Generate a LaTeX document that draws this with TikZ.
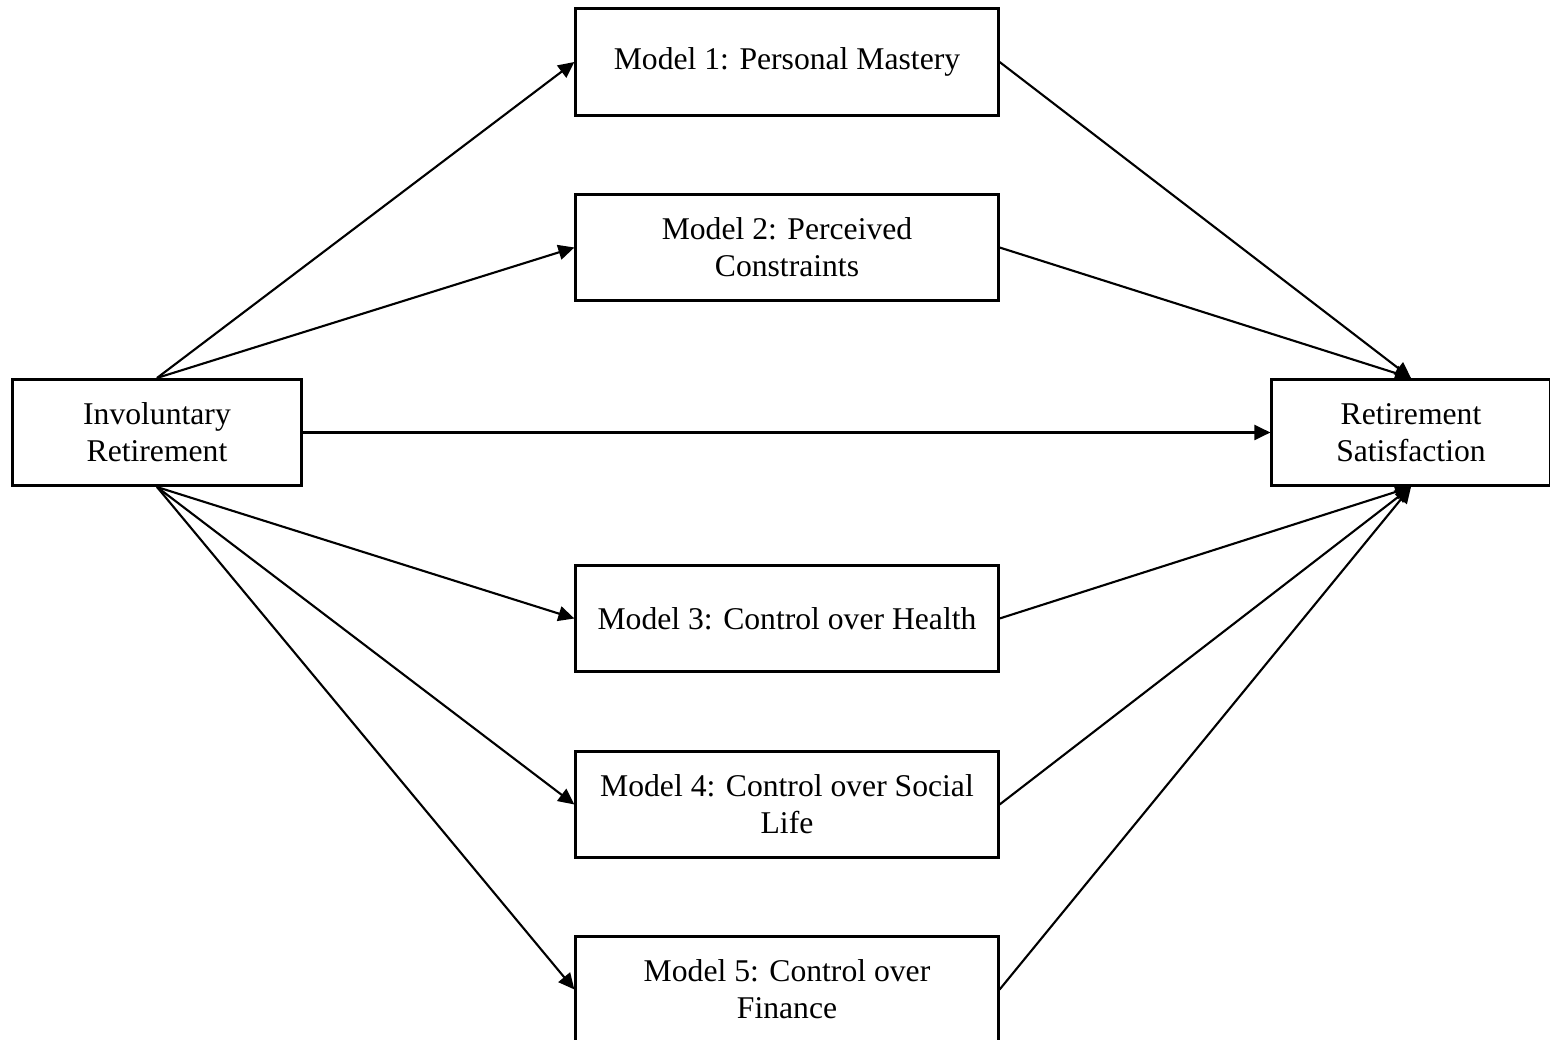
\documentclass[tikz,border=0pt]{standalone}
\usepackage{fontspec}
\setmainfont{Liberation Serif}
\usetikzlibrary{arrows.meta, positioning}

\begin{document}
\begin{tikzpicture}[
    x=0.01cm, y=-0.01cm,
    box/.style={draw=black, line width=0.85pt, fill=white, rectangle, minimum width=4.22cm, minimum height=1.06cm, align=center, font=\fontsize{9}{10.5}\selectfont},
    end_box/.style={box, minimum width=2.86cm},
    path_line/.style={line width=0.6pt, draw=black, -{Triangle[length=0.16cm, width=0.15cm]}}
]
    \useasboundingbox (0,0) rectangle (1550,1040);

    % Predictor and outcome
    \node (invol) [end_box, minimum width=2.88cm] at (157, 432.5) {Involuntary\\Retirement};
    \node (satis) [end_box, minimum width=2.78cm] at (1411, 432.5) {Retirement\\Satisfaction};

    % Mediator models
    \node (m1) [box] at (787, 62) {Model 1: Personal Mastery};
    \node (m2) [box] at (787, 247.5) {Model 2: Perceived\\Constraints};
    \node (m3) [box] at (787, 618.5) {Model 3: Control over Health};
    \node (m4) [box] at (787, 804.5) {Model 4: Control over Social\\Life};
    \node (m5) [box] at (787, 989.5) {Model 5: Control over\\Finance};

    % Paths
    \draw [path_line] (invol.north) -- (m1.west);
    \draw [path_line] (invol.north) -- (m2.west);
    \draw [path_line] (invol.south) -- (m3.west);
    \draw [path_line] (invol.south) -- (m4.west);
    \draw [path_line] (invol.south) -- (m5.west);
    \draw [path_line] (m1.east) -- (satis.north);
    \draw [path_line] (m2.east) -- (satis.north);
    \draw [path_line] (m3.east) -- (satis.south);
    \draw [path_line] (m4.east) -- (satis.south);
    \draw [path_line] (m5.east) -- (satis.south);
    \draw [path_line] (invol.east) -- (satis.west);
\end{tikzpicture}
\end{document}
